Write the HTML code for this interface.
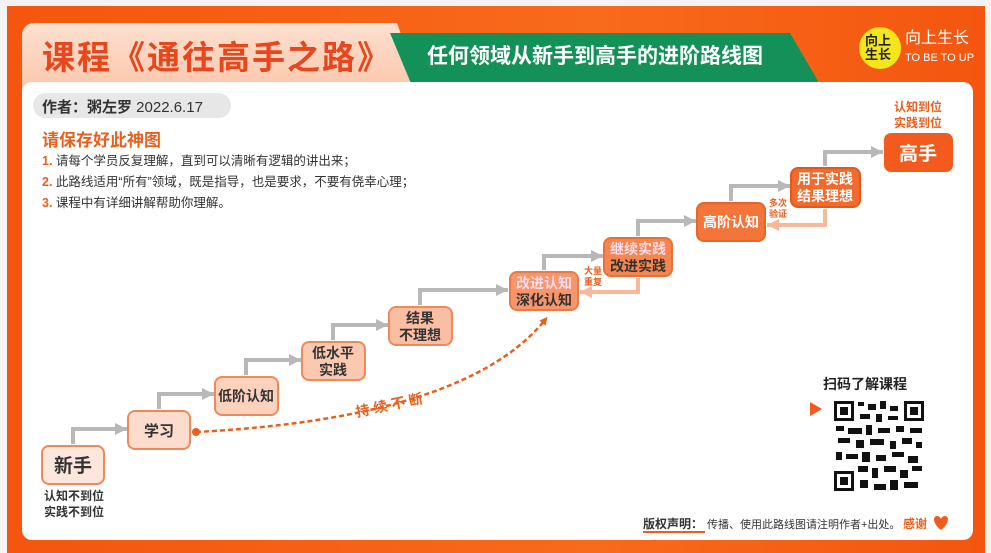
<!DOCTYPE html>
<html><head><meta charset="utf-8"><style>
*{margin:0;padding:0;box-sizing:border-box}
body{width:991px;height:553px;overflow:hidden;background:#f3f3f3;font-family:"Liberation Sans","Noto Sans CJK SC",sans-serif;position:relative}
.abs{position:absolute}
</style></head><body>
<div class="abs" style="left:7px;top:6px;width:978px;height:547px;background:linear-gradient(90deg,#f4560f,#f86a1c 60%,#f4560f)"></div>
<div class="abs" style="left:22px;top:23px;width:400px;height:70px;background:linear-gradient(180deg,#fde0cf,#fbc6ab);border-radius:12px 12px 0 0;clip-path:polygon(0 0,375px 0,400px 70px,0 70px)"></div>
<div class="abs" style="left:390px;top:33px;width:435px;height:60px;background:#139158;clip-path:polygon(0 0,400px 0,435px 60px,25px 60px)"></div>
<div class="abs" style="left:22px;top:82px;width:951px;height:458px;background:#fff;border-radius:10px"></div>
<div class="abs" style="left:42px;top:31px;font-size:33px;font-weight:bold;color:#e8461c;letter-spacing:2px;white-space:nowrap">课程《通往高手之路》</div>
<div class="abs" style="left:427px;top:40px;font-size:21px;font-weight:bold;color:#fff;white-space:nowrap">任何领域从新手到高手的进阶路线图</div>
<div class="abs" style="left:859px;top:27px;width:42px;height:42px;border-radius:50%;background:#f5e61a;font-size:13px;line-height:14px;padding:7px 0 0 6px;color:#222;font-weight:bold">向上<br>生长</div>
<div class="abs" style="left:905px;top:30px;color:#fff;font-size:16px;white-space:nowrap;line-height:18px">向上生长<br><span style="font-size:11px">TO BE TO UP</span></div>
<div class="abs" style="left:33px;top:93px;width:198px;height:25px;background:#e7e7e7;border-radius:13px"></div>
<div class="abs" style="left:42px;top:96px;font-size:15px;color:#333;white-space:nowrap"><b>作者：粥左罗</b> 2022.6.17</div>
<div class="abs" style="left:42px;top:126px;font-size:17px;font-weight:bold;color:#e8601e;white-space:nowrap">请保存好此神图</div>
<div class="abs" style="left:42px;top:151px;font-size:12.5px;color:#333;line-height:21px;white-space:nowrap"><span style="color:#e8601e;font-weight:bold">1.</span> 请每个学员反复理解，直到可以清晰有逻辑的讲出来；<br><span style="color:#e8601e;font-weight:bold">2.</span> 此路线适用“所有”领域，既是指导，也是要求，不要有侥幸心理；<br><span style="color:#e8601e;font-weight:bold">3.</span> 课程中有详细讲解帮助你理解。</div>
<svg class="abs" style="left:0;top:0" width="991" height="553">
<defs>
<marker id="g" markerWidth="3" markerHeight="3" refX="3" refY="1.5" orient="auto" markerUnits="strokeWidth"><path d="M0,0L3,1.5L0,3z" fill="#b8b8b8"/></marker>
<marker id="o" markerWidth="3" markerHeight="3" refX="3" refY="1.5" orient="auto" markerUnits="strokeWidth"><path d="M0,0L3,1.5L0,3z" fill="#f8b89a"/></marker>
<marker id="d" markerWidth="8" markerHeight="8" refX="4" refY="4" orient="auto" markerUnits="userSpaceOnUse"><path d="M0,0L8,4L0,8z" fill="#e8601e"/></marker>
</defs>
<g fill="none" stroke="#b8b8b8" stroke-width="4" marker-end="url(#g)">
<path d="M73,444V429H127"/><path d="M159,409V394H214"/><path d="M246,375V360H301"/><path d="M333,340V325H388"/><path d="M420,305V290H508"/><path d="M544,270V256H603"/><path d="M638,236V221H696"/><path d="M731,201V186H790"/><path d="M825,166V152H883"/>
</g>
<g fill="none" stroke="#f8b89a" stroke-width="4" marker-end="url(#o)">
<path d="M638,278V292H580"/><path d="M825,209V225H767"/>
</g>
<path d="M196,432C330,425 480,400 545,320" fill="none" stroke="#e8601e" stroke-width="2.5" stroke-dasharray="5,3" marker-end="url(#d)"/>
<circle cx="196" cy="432" r="4" fill="#e8601e"/>
<text x="355" y="412" transform="rotate(-12 380 405)" font-size="14" font-weight="bold" fill="#e8601e" letter-spacing="4" font-family="Liberation Sans,Noto Sans CJK SC,sans-serif">持续不断</text>
<g font-family="Liberation Sans,Noto Sans CJK SC,sans-serif" font-weight="bold" text-anchor="middle">
<rect x="42" y="446" width="62" height="38" rx="7" fill="#fde6db" stroke="#ee8a5a" stroke-width="2"/>
<text x="73" y="472" font-size="19" fill="#333">新手</text>
<rect x="128" y="411" width="62" height="38" rx="7" fill="#fcdccc" stroke="#ee8a5a" stroke-width="2"/>
<text x="159" y="436" font-size="15" fill="#333">学习</text>
<rect x="215" y="377" width="63" height="38" rx="7" fill="#fcd2bd" stroke="#ee8a5a" stroke-width="2"/>
<text x="246" y="401" font-size="14" fill="#333">低阶认知</text>
<rect x="302" y="342" width="63" height="38" rx="7" fill="#fbc8b0" stroke="#ee8a5a" stroke-width="2"/>
<text x="333" y="358" font-size="14" fill="#333">低水平</text><text x="333" y="375" font-size="14" fill="#333">实践</text>
<rect x="389" y="307" width="63" height="38" rx="7" fill="#fabfa3" stroke="#ee8a5a" stroke-width="2"/>
<text x="420" y="323" font-size="14" fill="#333">结果</text><text x="420" y="340" font-size="14" fill="#333">不理想</text>
<rect x="510" y="272" width="68" height="38" rx="7" fill="#f7956b" stroke="#ea7a48" stroke-width="2"/>
<text x="544" y="288" font-size="14" fill="#fde">改进认知</text><text x="544" y="305" font-size="14" fill="#333">深化认知</text>
<rect x="604" y="238" width="68" height="38" rx="7" fill="#f6864f" stroke="#e8703a" stroke-width="2"/>
<text x="638" y="254" font-size="14" fill="#fde">继续实践</text><text x="638" y="271" font-size="14" fill="#333">改进实践</text>
<rect x="697" y="203" width="68" height="38" rx="7" fill="#f4753a" stroke="#e8652a" stroke-width="2"/>
<text x="731" y="227" font-size="14" fill="#fff">高阶认知</text>
<rect x="791" y="168" width="69" height="39" rx="7" fill="#f26a2c" stroke="#e05a20" stroke-width="2"/>
<text x="825" y="184" font-size="14" fill="#fff">用于实践</text><text x="825" y="201" font-size="14" fill="#fff">结果理想</text>
<rect x="884" y="133" width="69" height="39" rx="7" fill="#f25a1e"/>
<text x="918" y="160" font-size="19" fill="#fff">高手</text>
<text x="918" y="111" font-size="12" fill="#e8601e">认知到位</text><text x="918" y="127" font-size="12" fill="#e8601e">实践到位</text>
<text x="74" y="500" font-size="12" fill="#333">认知不到位</text><text x="74" y="516" font-size="12" fill="#333">实践不到位</text>
<text x="593" y="274" font-size="9" fill="#e8601e">大量</text><text x="593" y="285" font-size="9" fill="#e8601e">重复</text>
<text x="778" y="206" font-size="9" fill="#e8601e">多次</text><text x="778" y="217" font-size="9" fill="#e8601e">验证</text>
<text x="865" y="389" font-size="14" fill="#222">扫码了解课程</text>
</g>
<path d="M810,402L822,409L810,416z" fill="#f25a1e"/>
<g fill="#111">
<rect x="833" y="400" width="92" height="92" fill="#fff"/>
<rect x="834" y="401" width="20" height="20"/><rect x="837" y="404" width="14" height="14" fill="#fff"/><rect x="840" y="407" width="8" height="8"/>
<rect x="904" y="401" width="20" height="20"/><rect x="907" y="404" width="14" height="14" fill="#fff"/><rect x="910" y="407" width="8" height="8"/>
<rect x="834" y="471" width="20" height="20"/><rect x="837" y="474" width="14" height="14" fill="#fff"/><rect x="840" y="477" width="8" height="8"/>
<rect x="858" y="402" width="6" height="4"/><rect x="868" y="404" width="8" height="6"/><rect x="880" y="401" width="6" height="8"/><rect x="890" y="406" width="8" height="5"/>
<rect x="860" y="414" width="10" height="5"/><rect x="876" y="414" width="6" height="8"/><rect x="888" y="416" width="10" height="4"/>
<rect x="836" y="426" width="8" height="5"/><rect x="848" y="428" width="14" height="6"/><rect x="866" y="425" width="6" height="10"/><rect x="878" y="428" width="12" height="5"/><rect x="896" y="426" width="8" height="6"/><rect x="910" y="428" width="12" height="5"/>
<rect x="838" y="438" width="12" height="5"/><rect x="856" y="440" width="8" height="8"/><rect x="870" y="439" width="14" height="6"/><rect x="890" y="441" width="6" height="8"/><rect x="902" y="438" width="10" height="6"/><rect x="916" y="442" width="6" height="6"/>
<rect x="836" y="452" width="6" height="8"/><rect x="846" y="454" width="12" height="5"/><rect x="862" y="452" width="8" height="10"/><rect x="876" y="455" width="10" height="6"/><rect x="892" y="452" width="12" height="5"/><rect x="908" y="456" width="10" height="7"/>
<rect x="858" y="466" width="10" height="6"/><rect x="872" y="468" width="6" height="10"/><rect x="884" y="466" width="12" height="6"/><rect x="900" y="470" width="8" height="8"/><rect x="912" y="466" width="10" height="5"/>
<rect x="860" y="480" width="8" height="8"/><rect x="874" y="484" width="12" height="6"/><rect x="890" y="480" width="8" height="10"/><rect x="904" y="482" width="14" height="6"/>
</g>
<text x="643" y="528" font-size="12" font-weight="bold" fill="#333" font-family="Liberation Sans,Noto Sans CJK SC,sans-serif">版权声明：</text>
<rect x="643" y="531" width="62" height="2" fill="#e8601e"/>
<text x="707" y="528" font-size="11" fill="#333" font-family="Liberation Sans,Noto Sans CJK SC,sans-serif">传播、使用此路线图请注明作者+出处。</text>
<text x="903" y="528" font-size="12" font-weight="bold" fill="#e8601e" font-family="Liberation Sans,Noto Sans CJK SC,sans-serif">感谢</text>
<path d="M941,530C932,523 933,516 937,516C940,516 941,519 941,519C941,519 942,516 945,516C949,516 950,523 941,530z" fill="#f25a1e"/>
</svg>
</body></html>
